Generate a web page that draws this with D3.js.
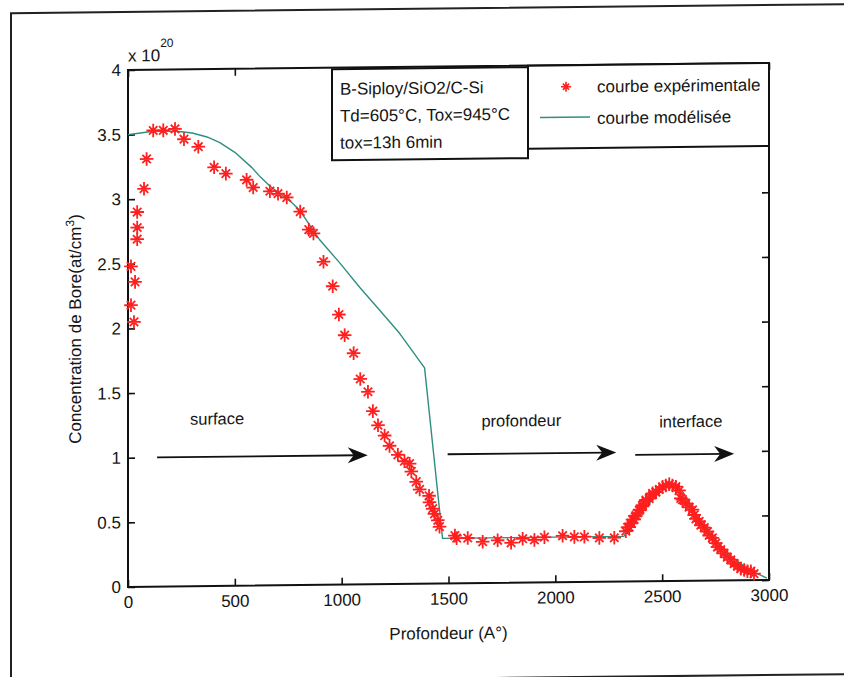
<!DOCTYPE html>
<html><head><meta charset="utf-8">
<script src="https://cdn.jsdelivr.net/npm/d3@7"></script>
<style>
body{margin:0;background:#fff;}
svg{display:block;}
text{font-family:"Liberation Sans",Arial,Helvetica,sans-serif;fill:#151515;}
</style></head><body>
<svg id="c" width="844" height="677"></svg>
<script>
// ---------- data ----------
const xTicks=[0,500,1000,1500,2000,2500,3000];
const yTicks=[0,0.5,1,1.5,2,2.5,3,3.5,4];

const expX=[14,33,14,28,43,43,43,75,87,118,165,220,262,329,403,458,555,586,664,702,743,806,846,868,915,958,987,1014,1056,1087,1123,1146,1170,1201,1224,1263,1294,1318,1326,1349,1365,1409,1411,1426,1434,1450,1458,
1530,1538,1590,1660,1730,1793,1847,1902,1949,2034,2089,2136,2206,2276,
2330,2338,2346,2354,2361,2369,2377,2385,2393,2408,2408,2424,2424,2439,2455,2455,2471,2486,2502,2517,2533,2548,2564,2579,2587,2595,2611,2626,2642,2650,2658,2673,2681,2697,2712,2720,2735,2751,2759,2774,2790,2805,2821,2837,2852,2868,2884,2899,2915,2930];
const expY=[2.48,2.36,2.18,2.05,2.90,2.78,2.69,3.08,3.31,3.53,3.53,3.54,3.46,3.40,3.24,3.19,3.14,3.08,3.05,3.03,3.00,2.89,2.75,2.72,2.50,2.31,2.09,1.93,1.79,1.59,1.49,1.34,1.23,1.15,1.07,1.00,0.95,0.93,0.87,0.79,0.73,0.68,0.63,0.58,0.54,0.49,0.44,
0.37,0.35,0.35,0.32,0.33,0.31,0.34,0.33,0.35,0.36,0.35,0.35,0.34,0.34,
0.39,0.42,0.42,0.45,0.48,0.48,0.51,0.53,0.55,0.58,0.59,0.62,0.63,0.64,0.67,0.68,0.69,0.71,0.73,0.74,0.75,0.74,0.73,0.70,0.64,0.63,0.60,0.57,0.55,0.51,0.48,0.46,0.43,0.41,0.38,0.35,0.33,0.29,0.26,0.24,0.21,0.18,0.16,0.13,0.11,0.09,0.08,0.07,0.07,0.05];

const modX=[0,50,100,150,200,250,300,370,430,500,580,620,664,710,760,804,897,991,1084,1178,1271,1388,1472,2320,2500,2545,2593,2673,2752,2827,2907,2990];
const modY=[3.50,3.51,3.52,3.523,3.522,3.518,3.507,3.475,3.43,3.354,3.234,3.16,3.09,3.03,2.97,2.90,2.67,2.49,2.30,2.12,1.94,1.67,0.35,0.35,0.73,0.755,0.70,0.47,0.31,0.18,0.08,0.015];

const infoLines=["B-Siploy/SiO2/C-Si","Td=605°C, Tox=945°C","tox=13h 6min"];
const legendLabels=["courbe expérimentale","courbe modélisée"];
const regionLabels=["surface","profondeur","interface"];
const regionLabelX=[290,1654,2486];
const regionLabelY=[1.25,1.21,1.19];
const arrowStart=[136,1496,2374];
const arrowEnd=[1122,2285,2837];
const arrowY=[1.0,1.0,0.98];

// ---------- layout ----------
const L=128,R=769,T=66.5,B=583.5;
const RED="#ff1f1f", TEAL="#2f8f80";
const svg=d3.select("#c");
svg.append("rect").attr("width",844).attr("height",677).attr("fill","#fff");
const g=svg.append("g").attr("transform","translate(449,0) skewY(-0.62) translate(-449,0)");

// outer page frame
g.append("rect").attr("x",11).attr("y",8.5).attr("width",900).attr("height",670)
 .attr("fill","none").attr("stroke","#222").attr("stroke-width",2);

const x=d3.scaleLinear().domain([0,3000]).range([L,R]);
const y=d3.scaleLinear().domain([0,4]).range([B,T]);

// axes
const fs=17;
const ax=g.append("g").attr("transform",`translate(0,${B})`)
 .call(d3.axisBottom(x).tickValues(xTicks).tickSize(-7).tickPadding(9).tickFormat(d=>String(d)));
const ay=g.append("g").attr("transform",`translate(${L},0)`)
 .call(d3.axisLeft(y).tickValues(yTicks).tickSize(-7).tickPadding(7).tickFormat(d=>String(d)));
const at=g.append("g").attr("transform",`translate(0,${T})`)
 .call(d3.axisTop(x).tickValues(xTicks).tickSize(-7).tickFormat(""));
const ar=g.append("g").attr("transform",`translate(${R},0)`)
 .call(d3.axisRight(y).tickValues(yTicks).tickSize(-7).tickFormat(""));
[ax,ay,at,ar].forEach(a=>{
  a.select(".domain").remove();
  a.selectAll("line").attr("stroke","#111").attr("stroke-width",1.6);
  a.selectAll("text").attr("font-size",fs).attr("fill","#151515")
   .attr("font-family",'"Liberation Sans",Arial,sans-serif');
});
g.append("rect").attr("x",L).attr("y",T).attr("width",R-L).attr("height",B-T)
 .attr("fill","none").attr("stroke","#111").attr("stroke-width",2);

// exponent
const ex=g.append("text").attr("x",L).attr("y",58).attr("font-size",17);
ex.append("tspan").text("x 10");
ex.append("tspan").attr("dy",-14).attr("font-size",12).text("20");

// axis titles
g.append("text").attr("x",(L+R)/2).attr("y",639).attr("text-anchor","middle").attr("font-size",17).text("Profondeur (A°)");
const yl=g.append("text").attr("transform",`translate(81,${(T+B)/2}) rotate(-90)`).attr("text-anchor","middle").attr("font-size",17);
yl.append("tspan").text("Concentration de Bore(at/cm");
yl.append("tspan").attr("dy",-7).attr("font-size",12).text("3");
yl.append("tspan").attr("dy",7).text(")");

// model line
const modData=modX.map((v,i)=>[v,modY[i]]);
g.append("path").datum(modData).attr("fill","none").attr("stroke",TEAL).attr("stroke-width",1.4)
 .attr("stroke-linejoin","round")
 .attr("d",d3.line().x(d=>x(d[0])).y(d=>y(d[1])));

// star marker
function star(r){const d=r*0.62;return `M${-r},0H${r}M0,${-r}V${r}M${-d},${-d}L${d},${d}M${-d},${d}L${d},${-d}`;}
const expData=expX.map((v,i)=>[v,expY[i]]);
g.append("g").selectAll("path").data(expData).join("path")
 .attr("transform",d=>`translate(${x(d[0])},${y(d[1])})`)
 .attr("d",star(6.8)).attr("stroke",RED).attr("stroke-width",1.8).attr("fill","none");

// region arrows + labels
function head(){return "M0,0L-20,-8L-14,0L-20,8Z";}
regionLabels.forEach((t,i)=>{
  g.append("text").attr("x",x(regionLabelX[i])).attr("y",y(regionLabelY[i])).attr("font-size",16.5).text(t);
  const x1=x(arrowStart[i]),x2=x(arrowEnd[i]),yy=y(arrowY[i]);
  g.append("line").attr("x1",x1).attr("x2",x2-10).attr("y1",yy).attr("y2",yy).attr("stroke","#111").attr("stroke-width",1.8);
  g.append("path").attr("transform",`translate(${x2},${yy})`).attr("d",head()).attr("fill","#111");
});

// info box
g.append("rect").attr("x",332).attr("y",68).attr("width",196).attr("height",91)
 .attr("fill","#fff").attr("stroke","#111").attr("stroke-width",2);
infoLines.forEach((t,i)=>g.append("text").attr("x",340).attr("y",93.5+i*27).attr("font-size",17).text(t));

// legend box
g.append("rect").attr("x",528).attr("y",T).attr("width",R-528).attr("height",149.5-T)
 .attr("fill","#fff").attr("stroke","#111").attr("stroke-width",2);
g.append("path").attr("transform","translate(566,88)").attr("d",star(5)).attr("stroke",RED).attr("stroke-width",1.6).attr("fill","none");
g.append("line").attr("x1",540).attr("x2",590).attr("y1",118.5).attr("y2",118.5).attr("stroke",TEAL).attr("stroke-width",1.4);
legendLabels.forEach((t,i)=>g.append("text").attr("x",597).attr("y",94+i*31.5).attr("font-size",17).text(t));
</script></body></html>
